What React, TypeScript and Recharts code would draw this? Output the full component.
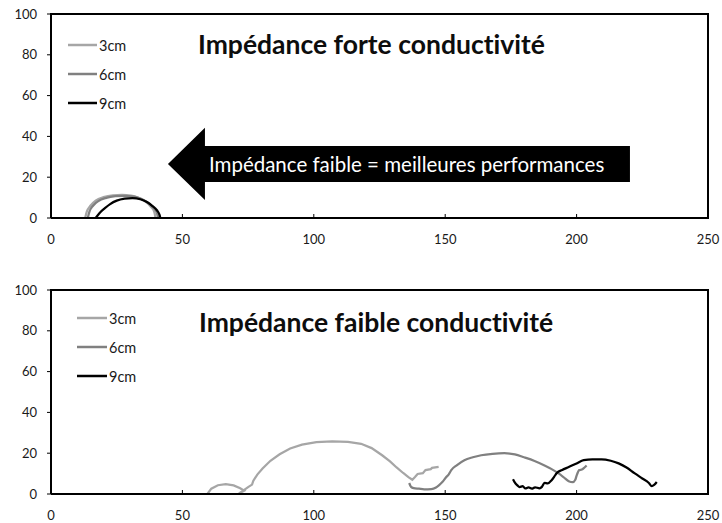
import { LineChart, Line, XAxis, YAxis, Legend, ReferenceArea, CartesianGrid } from 'recharts';

// Nyquist-style impedance curves, [x, y] pairs
const topSeries3cm = [
  [13, 0], [13.6, 3], [15, 6], [17, 8.5], [20, 10.2], [23.5, 11.1], [27, 11.3],
  [30.5, 11], [33.5, 9.8], [36, 8], [38, 5.5], [39.3, 3], [39.8, 0],
];
const topSeries6cm = [
  [14, 0], [14.6, 3], [16, 6], [18, 8.3], [21, 9.9], [24.5, 10.7], [28, 10.9],
  [31.5, 10.5], [34.5, 9.3], [37, 7.4], [39, 5], [40.3, 2.5], [40.8, 0],
];
const topSeries9cm = [
  [17, 0], [18.5, 2.5], [20.5, 4.8], [22.5, 6.8], [25, 8.5], [28, 9.5], [31, 9.8],
  [34, 9.2], [36.5, 7.8], [38.5, 6], [40.3, 3.8], [41.3, 1.5], [41.6, 0],
];

const bottomSeries3cm = [
  [59.5, 0], [61, 2.6], [63.5, 4.3], [66.5, 4.8], [69.5, 4.2], [72, 2.8], [73.5, 1.6],
  [71.5, 0.3], [73, 1.5], [75, 3.4], [76.5, 4.6], [77, 6.5], [78.5, 9.5], [80.5, 12.5],
  [83.5, 16.3], [87, 19.5], [91, 22.3], [95.5, 24.2], [101, 25.4], [107, 25.8],
  [113, 25.5], [118, 24.6], [122, 22.5], [126, 19], [129, 16], [131.5, 13], [134, 10.3],
  [136, 8.3], [137.5, 7], [138.5, 8.3], [139.5, 9.8], [141.5, 10.2], [142.5, 11.7],
  [144.5, 12.2], [145, 12.8], [147.5, 13.3],
];
const bottomSeries6cm = [
  [136.3, 5.4], [137, 3.5], [138, 2.9], [140, 2.6], [142, 2.3], [144.7, 2.4], [146.5, 3.2],
  [147.7, 4.4], [149, 6], [150.4, 8.3], [151.3, 9.5], [152.3, 11.7], [154.5, 14.2],
  [157.3, 16.6], [160.5, 18], [163.7, 19], [168, 19.7], [172.5, 20], [176.5, 19.4],
  [180, 18], [184, 16.2], [187.8, 14], [190.5, 12.2], [193, 10.2], [195, 8.3], [197, 6.3],
  [198.5, 5.8], [199.5, 7], [200, 9], [201, 11.7], [202, 12], [203, 13], [203.8, 14],
];
const bottomSeries9cm = [
  [175.8, 7.2], [176.4, 5.8], [177.5, 4.2], [178.3, 3.4], [179.5, 3.8], [180.5, 2.7],
  [181.7, 3.2], [183, 2.6], [184.2, 3.3], [185.9, 2.8], [186.8, 3.5], [187.8, 5.4],
  [189, 5.2], [190.5, 6.8], [191.5, 8.5], [192.4, 10.2], [194.5, 11.8], [197, 13.2],
  [200, 15], [202.7, 16.6], [206, 17], [209.5, 17], [213, 16.3], [216, 15], [219, 13],
  [222, 10.2], [225, 7.6], [227.5, 5.4], [228.6, 3.9], [229.5, 4.5], [230.5, 5.9],
];

const seriesNames = ['3cm', '6cm', '9cm'];
const seriesColors = ['#a6a6a6', '#808080', '#000000'];
const xTicks = [0, 50, 100, 150, 200, 250];
const yTicks = [0, 20, 40, 60, 80, 100];

const topTitle = 'Impédance forte conductivité';
const bottomTitle = 'Impédance faible conductivité';
const arrowLabel = 'Impédance faible = meilleures performances';
// arrow annotation bounds in data units
const arrowX = [44.5, 220.3];
const arrowY = [8.8, 44.2];

const FONT = 'Lato, "Noto Sans", sans-serif';
const W = 722;
const H = 260;
const MARGIN = { top: 14, right: 14, bottom: 12, left: 0 };
const Y_AXIS_W = 51;
const X_AXIS_H = 30;

const toPoints = (arr: number[][]) => arr.map(([x, y]) => ({ x, y }));

const XTick = (props: any) => {
  const { x, y, payload } = props;
  const axisY = y - 17;
  return (
    <g>
      <line x1={x} x2={x} y1={axisY} y2={axisY - 4} stroke="#000" strokeWidth={1} />
      <text x={x} y={y} dy="0.71em" textAnchor="middle" fontSize={13} fontFamily={FONT} fill="#1a1a1a">
        {payload.value}
      </text>
    </g>
  );
};

const ArrowShape = (props: any) => {
  const { x, y, width, height } = props;
  const head = 37;
  const pts = [
    [x, y + height / 2],
    [x + head, y],
    [x + head, y + height * 0.25],
    [x + width, y + height * 0.25],
    [x + width, y + height * 0.75],
    [x + head, y + height * 0.75],
    [x + head, y + height],
  ].map((p) => p.join(',')).join(' ');
  return (
    <g>
      <polygon points={pts} fill="#000" />
      <text
        x={x + head + 4}
        y={y + height / 2}
        dominantBaseline="central"
        fill="#fff"
        fontSize={20.5}
        fontFamily={FONT}
        style={{ fontVariantLigatures: 'none' }}
      >
        {arrowLabel}
      </text>
    </g>
  );
};

const makeLegend = (lineLen: number) => (props: any) => {
  const { payload } = props;
  return (
    <div style={{ fontFamily: FONT, fontSize: 14.5, color: '#1a1a1a' }}>
      {payload.map((p: any) => (
        <div key={p.value} style={{ display: 'flex', alignItems: 'center', height: 29 }}>
          <svg width={lineLen} height={4} style={{ display: 'block' }}>
            <line x1={0} x2={lineLen} y1={2} y2={2} stroke={p.color} strokeWidth={2.5} />
          </svg>
          <span style={{ marginLeft: 2 }}>{p.value}</span>
        </div>
      ))}
    </div>
  );
};

interface PanelProps {
  series: number[][][];
  legendLeft: number;
  legendTop: number;
  legendLine: number;
  linearFirst?: boolean;
  arrow?: boolean;
}

const frameLine = { stroke: '#000', strokeWidth: 2 };

function Panel({ series, legendLeft, legendTop, legendLine, linearFirst, arrow }: PanelProps) {
  // plot-area box, derived from the chart margins, for the frame overlay
  const plotLeft = MARGIN.left + Y_AXIS_W;
  const plotTop = MARGIN.top;
  const plotW = W - MARGIN.right - plotLeft;
  const plotH = H - MARGIN.bottom - X_AXIS_H - plotTop;
  return (
    <div style={{ position: 'relative', width: W, height: H }}>
      <LineChart width={W} height={H} margin={MARGIN}>
        {/* top and right frame edges as single grid lines */}
        <CartesianGrid
          horizontalValues={[100]}
          verticalValues={[250]}
          stroke="#000"
          strokeWidth={2}
          strokeOpacity={1}
        />
        <XAxis
          type="number"
          dataKey="x"
          domain={[0, 250]}
          ticks={xTicks}
          tickSize={0}
          tickMargin={17}
          tickLine={false}
          tick={<XTick />}
          axisLine={frameLine}
          height={X_AXIS_H}
          allowDataOverflow
        />
        <YAxis
          type="number"
          dataKey="y"
          domain={[0, 100]}
          ticks={yTicks}
          width={Y_AXIS_W}
          tickSize={4}
          tickMargin={10}
          tickLine={{ stroke: '#000' }}
          axisLine={frameLine}
          tick={{ fontSize: 13, fontFamily: FONT, fill: '#1a1a1a' }}
        />
        {arrow && (
          <ReferenceArea
            x1={arrowX[0]}
            x2={arrowX[1]}
            y1={arrowY[0]}
            y2={arrowY[1]}
            ifOverflow="visible"
            shape={<ArrowShape />}
          />
        )}
        {series.map((s, i) => (
          <Line
            key={seriesNames[i]}
            name={seriesNames[i]}
            data={toPoints(s)}
            dataKey="y"
            type={linearFirst && i === 0 ? 'linear' : 'monotone'}
            stroke={seriesColors[i]}
            strokeWidth={2.25}
            dot={false}
            activeDot={false}
            isAnimationActive={false}
          />
        ))}
        <Legend
          layout="vertical"
          align="center"
          verticalAlign="middle"
          wrapperStyle={{ left: legendLeft, top: legendTop, width: 80 }}
          content={makeLegend(legendLine)}
        />
      </LineChart>
      <div
        style={{
          position: 'absolute',
          left: plotLeft - 1,
          top: plotTop - 1,
          width: plotW + 2,
          height: plotH + 2,
          borderTop: '2px solid #000',
          borderRight: '2px solid #000',
          boxSizing: 'border-box',
          pointerEvents: 'none',
          zIndex: 5,
        }}
      />
    </div>
  );
}

export default function App() {
  const titleStyle = {
    position: 'absolute' as const,
    fontFamily: FONT,
    fontWeight: 700,
    fontSize: 26.5,
    lineHeight: '26px',
    color: '#0d0d0d',
    whiteSpace: 'nowrap' as const,
    fontVariantLigatures: 'none' as const,
  };
  return (
    <div style={{ position: 'absolute', left: 0, top: 0, width: W, height: 523, background: '#fff' }}>
      <div style={{ position: 'absolute', left: 0, top: 0 }}>
        <Panel
          series={[topSeries3cm, topSeries6cm, topSeries9cm]}
          legendLeft={68}
          legendTop={30.5}
          legendLine={29}
          arrow
        />
      </div>
      <div style={{ ...titleStyle, left: 198, top: 31 }}>{topTitle}</div>
      <div style={{ position: 'absolute', left: 0, top: 276 }}>
        <Panel
          series={[bottomSeries3cm, bottomSeries6cm, bottomSeries9cm]}
          legendLeft={77}
          legendTop={27.5}
          legendLine={30}
          linearFirst
        />
      </div>
      <div style={{ ...titleStyle, left: 199, top: 309 }}>{bottomTitle}</div>
    </div>
  );
}
